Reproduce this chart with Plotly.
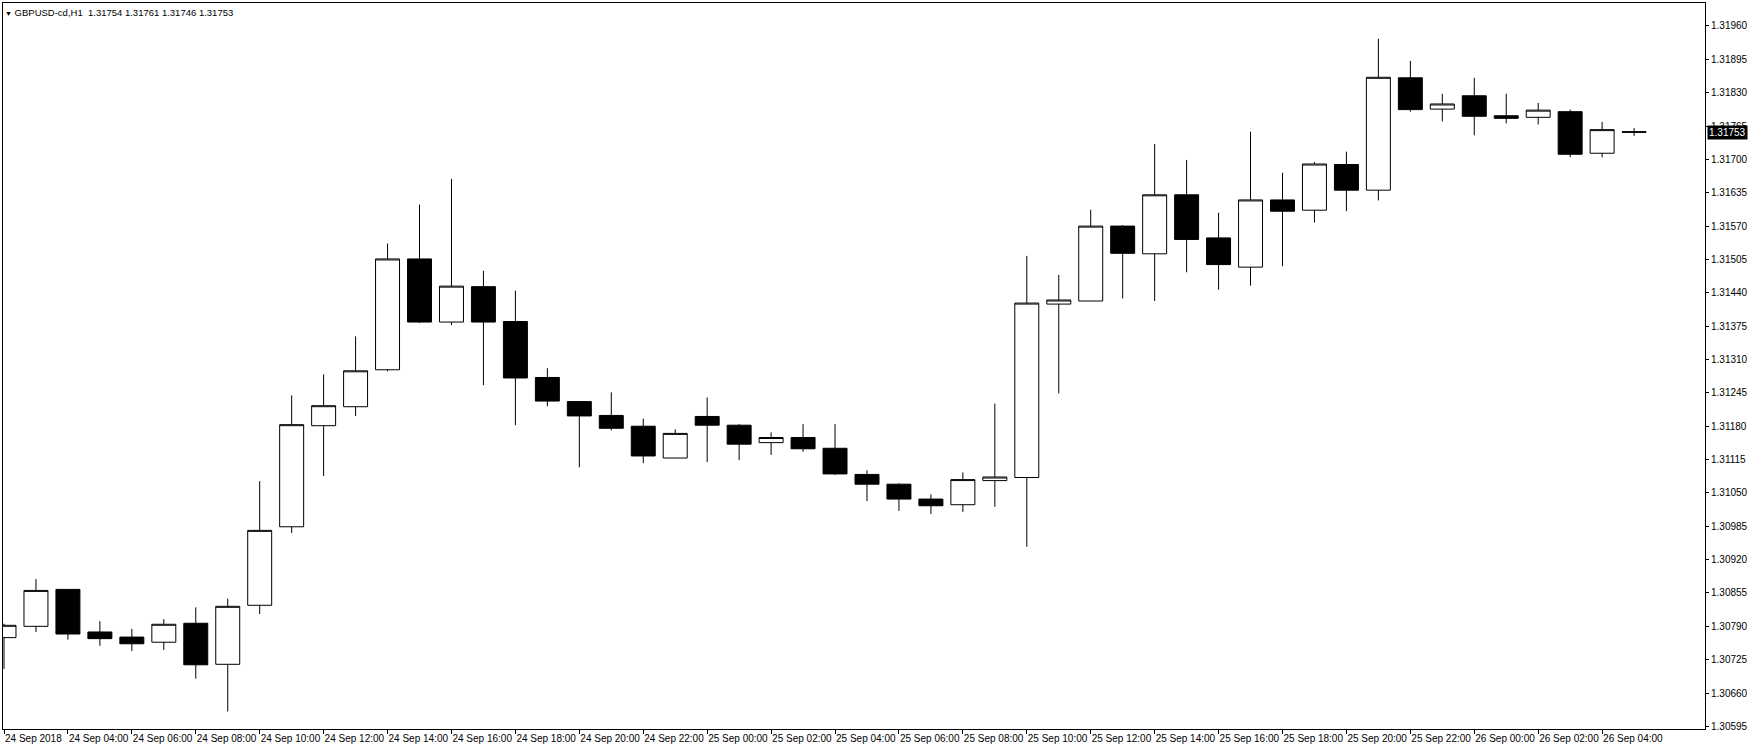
import plotly.graph_objects as go
import pandas as pd

# ---- data (GBPUSD-cd, H1) ----
bar_times = pd.date_range("2018-09-24 02:00", periods=52, freq="h")

open_ = [1.30768, 1.30790, 1.30862, 1.30779, 1.30769, 1.30759, 1.30796, 1.30716,
         1.30831, 1.30984, 1.31181, 1.31218, 1.31290, 1.31506, 1.31383, 1.31452,
         1.31384, 1.31275, 1.31228, 1.31201, 1.31180, 1.31118, 1.31199, 1.31182,
         1.31148, 1.31158, 1.31137, 1.31086, 1.31067, 1.31038, 1.31027, 1.31074,
         1.31080, 1.31418, 1.31424, 1.31570, 1.31516, 1.31631, 1.31547, 1.31490,
         1.31621, 1.31601, 1.31690, 1.31640, 1.31859, 1.31798, 1.31824, 1.31785,
         1.31782, 1.31793, 1.31712, 1.31754]
high = [1.30795, 1.30882, 1.30862, 1.30800, 1.30785, 1.30804, 1.30827, 1.30844,
        1.31073, 1.31240, 1.31281, 1.31355, 1.31536, 1.31612, 1.31662, 1.31483,
        1.31444, 1.31293, 1.31228, 1.31246, 1.31195, 1.31174, 1.31236, 1.31184,
        1.31168, 1.31184, 1.31184, 1.31094, 1.31069, 1.31047, 1.31090, 1.31224,
        1.31512, 1.31475, 1.31602, 1.31572, 1.31730, 1.31699, 1.31596, 1.31754,
        1.31674, 1.31695, 1.31715, 1.31935, 1.31892, 1.31828, 1.31859, 1.31828,
        1.31810, 1.31797, 1.31773, 1.31761]
low = [1.30707, 1.30779, 1.30764, 1.30752, 1.30742, 1.30744, 1.30688, 1.30624,
       1.30814, 1.30972, 1.31083, 1.31200, 1.31287, 1.31381, 1.31377, 1.31260,
       1.31182, 1.31219, 1.31100, 1.31172, 1.31108, 1.31118, 1.31110, 1.31114,
       1.31124, 1.31130, 1.31085, 1.31034, 1.31015, 1.31009, 1.31013, 1.31023,
       1.30945, 1.31244, 1.31424, 1.31429, 1.31424, 1.31480, 1.31446, 1.31454,
       1.31492, 1.31577, 1.31599, 1.31620, 1.31793, 1.31774, 1.31747, 1.31770,
       1.31768, 1.31704, 1.31704, 1.31746]
close = [1.30792, 1.30860, 1.30775, 1.30766, 1.30756, 1.30794, 1.30715, 1.30829,
         1.30977, 1.31183, 1.31220, 1.31288, 1.31506, 1.31383, 1.31453, 1.31383,
         1.31274, 1.31229, 1.31200, 1.31176, 1.31122, 1.31166, 1.31182, 1.31145,
         1.31158, 1.31136, 1.31087, 1.31067, 1.31038, 1.31025, 1.31076, 1.31081,
         1.31420, 1.31426, 1.31570, 1.31517, 1.31631, 1.31544, 1.31495, 1.31621,
         1.31599, 1.31691, 1.31640, 1.31860, 1.31797, 1.31808, 1.31784, 1.31780,
         1.31796, 1.31710, 1.31758, 1.31753]

x_tick_times = bar_times[::2]
x_tick_labels = ["24 Sep 2018", "24 Sep 04:00", "24 Sep 06:00", "24 Sep 08:00",
                 "24 Sep 10:00", "24 Sep 12:00", "24 Sep 14:00", "24 Sep 16:00",
                 "24 Sep 18:00", "24 Sep 20:00", "24 Sep 22:00", "25 Sep 00:00",
                 "25 Sep 02:00", "25 Sep 04:00", "25 Sep 06:00", "25 Sep 08:00",
                 "25 Sep 10:00", "25 Sep 12:00", "25 Sep 14:00", "25 Sep 16:00",
                 "25 Sep 18:00", "25 Sep 20:00", "25 Sep 22:00", "26 Sep 00:00",
                 "26 Sep 02:00", "26 Sep 04:00"]

y_tick_labels = ["1.30595", "1.30660", "1.30725", "1.30790", "1.30855", "1.30920",
                 "1.30985", "1.31050", "1.31115", "1.31180", "1.31245", "1.31310",
                 "1.31375", "1.31440", "1.31505", "1.31570", "1.31635", "1.31700",
                 "1.31765", "1.31830", "1.31895", "1.31960"]
y_tick_values = [float(v) for v in y_tick_labels]

symbol = "GBPUSD-cd,H1"
last_bar = ["1.31754", "1.31761", "1.31746", "1.31753"]
current_price = 1.31753

FONT = "Liberation Sans, Arial, sans-serif"

fig = go.Figure(go.Candlestick(
    x=bar_times, open=open_, high=high, low=low, close=close,
    increasing=dict(line=dict(color="black", width=1), fillcolor="white"),
    decreasing=dict(line=dict(color="black", width=1), fillcolor="black"),
    whiskerwidth=0, hoverinfo="skip", showlegend=False,
))

t0 = bar_times[0]
x_left = t0 - pd.Timedelta(hours=1 / 32)
x_right = x_left + pd.Timedelta(hours=53.25)

fig.update_layout(
    width=1750, height=750,
    margin=dict(l=2, r=44, t=2, b=21, pad=0),
    paper_bgcolor="white", plot_bgcolor="white",
    showlegend=False,
    boxgap=0.25, boxgroupgap=0,
    font=dict(family=FONT, size=10, color="black"),
    xaxis=dict(
        type="date", range=[x_left, x_right],
        rangeslider=dict(visible=False),
        showgrid=False, zeroline=False,
        showline=True, linecolor="black", linewidth=1, mirror=True,
        ticks="outside", ticklen=4, tickcolor="black", tickwidth=1,
        tickvals=list(x_tick_times), ticktext=x_tick_labels,
        tickangle=0,
        ticklabelposition="outside right",
        tickfont=dict(family=FONT, size=10, color="black"),
    ),
    yaxis=dict(
        side="right", range=[1.305899, 1.320048],
        showgrid=False, zeroline=False,
        showline=True, linecolor="black", linewidth=1, mirror=True,
        ticks="outside", ticklen=3, tickcolor="black", tickwidth=1,
        tickvals=y_tick_values, ticktext=y_tick_labels,
        tickfont=dict(family=FONT, size=10, color="black"),
    ),
)

title_text = ("<span style='font-size:7px'>▼</span>\u00a0" + symbol + "\u00a0\u00a0"
              + " ".join(last_bar))
fig.add_annotation(
    xref="paper", yref="paper", x=0, y=1, xanchor="left", yanchor="top",
    xshift=0, yshift=-2, text=title_text, showarrow=False,
    bgcolor="white", borderpad=1,
    font=dict(family=FONT, size=9.5, color="black"),
)

fig.add_annotation(
    xref="paper", yref="y", x=1, y=current_price, xanchor="left", yanchor="middle",
    xshift=2, text="{:.5f}".format(current_price), showarrow=False,
    bgcolor="black", borderpad=1,
    font=dict(family=FONT, size=10, color="white"),
)

fig.write_html("out.html", config={"displayModeBar": False},
               post_script="document.body.style.margin='0px';")
